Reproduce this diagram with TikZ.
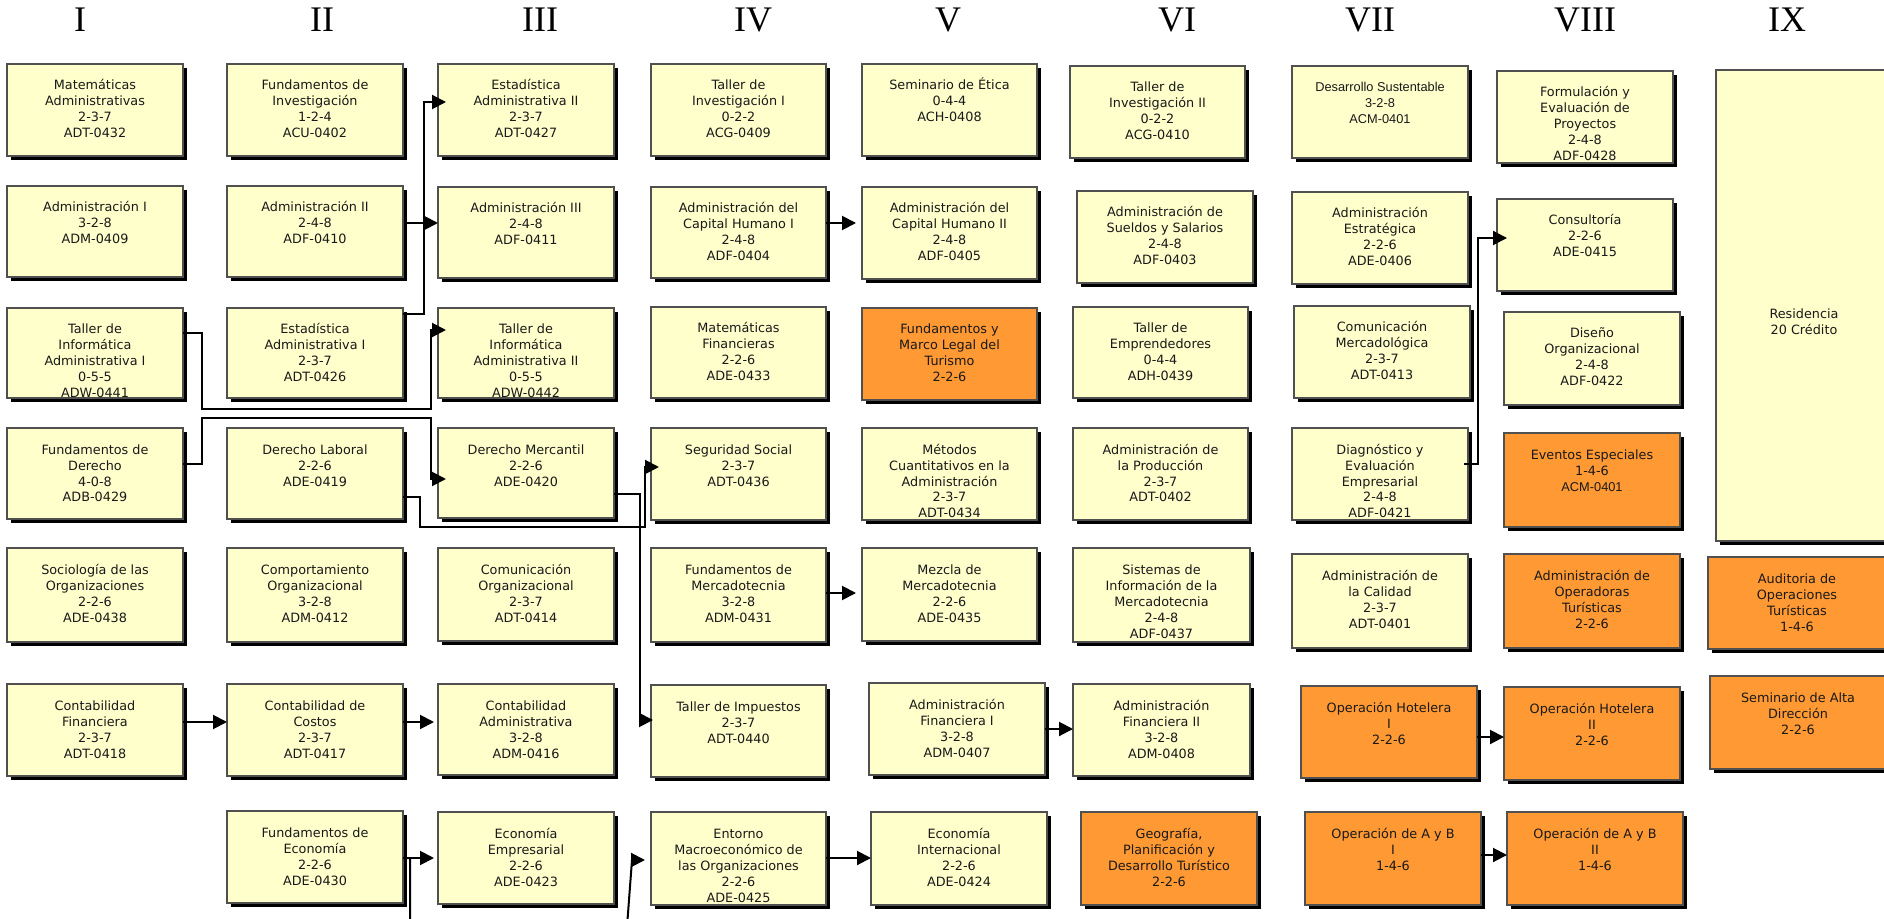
\documentclass[tikz,border=0pt]{standalone}
\usepackage{fontspec}
\usetikzlibrary{arrows.meta,shadows}
\newfontfamily\crsf{DejaVu Sans}
\newfontfamily\arialf{Liberation Sans}
\newfontfamily\romf{Liberation Serif}
\definecolor{ylw}{HTML}{FFFFCC}
\definecolor{orn}{HTML}{FF9933}
\definecolor{bordergray}{HTML}{505050}
\tikzset{
  crs/.style={rectangle, draw=bordergray, line width=0.8pt, fill=ylw, inner sep=0pt, outer sep=0pt,
    drop shadow={shadow xshift=1.8pt, shadow yshift=-1.8pt, fill=black, opacity=1}},
  org/.style={crs, fill=orn},
  lbl/.style={anchor=base, inner sep=0pt, outer sep=0pt, font=\crsf\fontsize{6.4}{8}\selectfont, text=black!90},
  roman/.style={anchor=base, inner sep=0pt, font=\romf\fontsize{18}{20}\selectfont},
  conn/.style={line width=1pt, -{Triangle[length=7pt,width=7pt]}},
}
\newcommand\crsbox[7]{%
  \node[#6, minimum width={(#4-#2)*0.5pt}, minimum height={(#5-#3)*0.5pt}] (#1) at ({(#2+#4)/2},{(#3+#5)/2}) {};
  \node[lbl] (#1t) at ({(#2+#4)/2},{#3+26}) {\begin{tabular}[t]{@{}c@{}}#7\end{tabular}};
}
\begin{document}
\begin{tikzpicture}[x=0.5pt,y=-0.5pt]
\useasboundingbox (0,0) rectangle (1884,919);
\clip (0,0) rectangle (1884,919);
% semester numerals
\node[roman] (r1) at (80,32) {I};
\node[roman] (r2) at (322,32) {II};
\node[roman] (r3) at (540,32) {III};
\node[roman] (r4) at (753,32) {IV};
\node[roman] (r5) at (948,32) {V};
\node[roman] (r6) at (1177,32) {VI};
\node[roman] (r7) at (1370,32) {VII};
\node[roman] (r8) at (1585,32) {VIII};
\node[roman] (r9) at (1787,32) {IX};
% column I
\crsbox{c11}{7}{64}{183}{156}{crs}{Matemáticas\\Administrativas\\2-3-7\\ADT-0432}
\crsbox{c12}{7}{186}{183}{277}{crs}{Administración I\\3-2-8\\ADM-0409}
\crsbox{c13}{7}{308}{183}{398}{crs}{Taller de\\Informática\\Administrativa I\\0-5-5\\ADW-0441}
\crsbox{c14}{7}{428}{183}{519}{crs}{Fundamentos de\\Derecho\\4-0-8\\ADB-0429}
\crsbox{c15}{7}{548}{183}{642}{crs}{Sociología de las\\Organizaciones\\2-2-6\\ADE-0438}
\crsbox{c16}{7}{684}{183}{776}{crs}{Contabilidad\\Financiera\\2-3-7\\ADT-0418}
% column II
\crsbox{c21}{227}{64}{403}{156}{crs}{Fundamentos de\\Investigación\\1-2-4\\ACU-0402}
\crsbox{c22}{227}{186}{403}{277}{crs}{Administración II\\2-4-8\\ADF-0410}
\crsbox{c23}{227}{308}{403}{398}{crs}{Estadística\\Administrativa I\\2-3-7\\ADT-0426}
\crsbox{c24}{227}{428}{403}{519}{crs}{Derecho Laboral\\2-2-6\\ADE-0419}
\crsbox{c25}{227}{548}{403}{642}{crs}{Comportamiento\\Organizacional\\3-2-8\\ADM-0412}
\crsbox{c26}{227}{684}{403}{776}{crs}{Contabilidad de\\Costos\\2-3-7\\ADT-0417}
\crsbox{c27}{227}{811}{403}{903}{crs}{Fundamentos de\\Economía\\2-2-6\\ADE-0430}
% column III
\crsbox{c31}{438}{64}{614}{156}{crs}{Estadística\\Administrativa II\\2-3-7\\ADT-0427}
\crsbox{c32}{438}{187}{614}{278}{crs}{Administración III\\2-4-8\\ADF-0411}
\crsbox{c33}{438}{308}{614}{398}{crs}{Taller de\\Informática\\Administrativa II\\0-5-5\\ADW-0442}
\crsbox{c34}{438}{428}{614}{518}{crs}{Derecho Mercantil\\2-2-6\\ADE-0420}
\crsbox{c35}{438}{548}{614}{641}{crs}{Comunicación\\Organizacional\\2-3-7\\ADT-0414}
\crsbox{c36}{438}{684}{614}{775}{crs}{Contabilidad\\Administrativa\\3-2-8\\ADM-0416}
\crsbox{c37}{438}{812}{614}{904}{crs}{Economía\\Empresarial\\2-2-6\\ADE-0423}
% column IV
\crsbox{c41}{651}{64}{826}{156}{crs}{Taller de\\Investigación I\\0-2-2\\ACG-0409}
\crsbox{c42}{651}{187}{826}{278}{crs}{Administración del\\Capital Humano I\\2-4-8\\ADF-0404}
\crsbox{c43}{651}{307}{826}{398}{crs}{Matemáticas\\Financieras\\2-2-6\\ADE-0433}
\crsbox{c44}{651}{428}{826}{520}{crs}{Seguridad Social\\2-3-7\\ADT-0436}
\crsbox{c45}{651}{548}{826}{642}{crs}{Fundamentos de\\Mercadotecnia\\3-2-8\\ADM-0431}
\crsbox{c46}{651}{685}{826}{777}{crs}{Taller de Impuestos\\2-3-7\\ADT-0440}
\crsbox{c47}{651}{812}{826}{905}{crs}{Entorno\\Macroeconómico de\\las Organizaciones\\2-2-6\\ADE-0425}
% column V
\crsbox{c51}{862}{64}{1037}{156}{crs}{Seminario de Ética\\0-4-4\\ACH-0408}
\crsbox{c52}{862}{187}{1037}{279}{crs}{Administración del\\Capital Humano II\\2-4-8\\ADF-0405}
\crsbox{c53}{862}{308}{1037}{400}{org}{Fundamentos y\\Marco Legal del\\Turismo\\2-2-6}
\crsbox{c54}{862}{428}{1037}{520}{crs}{Métodos\\Cuantitativos en la\\Administración\\2-3-7\\ADT-0434}
\crsbox{c55}{862}{548}{1037}{641}{crs}{Mezcla de\\Mercadotecnia\\2-2-6\\ADE-0435}
\crsbox{c56}{869}{683}{1045}{775}{crs}{Administración\\Financiera I\\3-2-8\\ADM-0407}
\crsbox{c57}{871}{812}{1047}{905}{crs}{Economía\\Internacional\\2-2-6\\ADE-0424}
% column VI
\crsbox{c61}{1070}{66}{1245}{158}{crs}{Taller de\\Investigación II\\0-2-2\\ACG-0410}
\crsbox{c62}{1077}{191}{1253}{283}{crs}{Administración de\\Sueldos y Salarios\\2-4-8\\ADF-0403}
\crsbox{c63}{1073}{307}{1248}{398}{crs}{Taller de\\Emprendedores\\0-4-4\\ADH-0439}
\crsbox{c64}{1073}{428}{1248}{520}{crs}{Administración de\\la Producción\\2-3-7\\ADT-0402}
\crsbox{c65}{1073}{548}{1250}{642}{crs}{Sistemas de\\Información de la\\Mercadotecnia\\2-4-8\\ADF-0437}
\crsbox{c66}{1073}{684}{1250}{776}{crs}{Administración\\Financiera II\\3-2-8\\ADM-0408}
\crsbox{c67}{1081}{812}{1257}{905}{org}{Geografía,\\Planificación y\\Desarrollo Turístico\\2-2-6}
% column VII
\crsbox{c71}{1292}{66}{1468}{158}{crs}{\arialf Desarrollo Sustentable\\\arialf 3-2-8\\\arialf ACM-0401}
\crsbox{c72}{1292}{192}{1468}{284}{crs}{Administración\\Estratégica\\2-2-6\\ADE-0406}
\crsbox{c73}{1294}{306}{1470}{398}{crs}{Comunicación\\Mercadológica\\2-3-7\\ADT-0413}
\crsbox{c74}{1292}{428}{1468}{520}{crs}{Diagnóstico y\\Evaluación\\Empresarial\\2-4-8\\ADF-0421}
\crsbox{c75}{1292}{554}{1468}{648}{crs}{Administración de\\la Calidad\\2-3-7\\ADT-0401}
\crsbox{c76}{1301}{686}{1477}{778}{org}{Operación Hotelera\\I\\2-2-6}
\crsbox{c77}{1305}{812}{1481}{905}{org}{Operación de A y B\\I\\1-4-6}
% column VIII
\crsbox{c81}{1497}{71}{1673}{163}{crs}{Formulación y\\Evaluación de\\Proyectos\\2-4-8\\ADF-0428}
\crsbox{c82}{1497}{199}{1673}{291}{crs}{Consultoría\\2-2-6\\ADE-0415}
\crsbox{c83}{1504}{312}{1680}{405}{crs}{Diseño\\Organizacional\\2-4-8\\ADF-0422}
\crsbox{c84}{1504}{433}{1680}{527}{org}{Eventos Especiales\\1-4-6\\\arialf ACM-0401}
\crsbox{c85}{1504}{554}{1680}{648}{org}{Administración de\\Operadoras\\Turísticas\\2-2-6}
\crsbox{c86}{1504}{687}{1680}{780}{org}{Operación Hotelera\\II\\2-2-6}
\crsbox{c87}{1507}{812}{1683}{905}{org}{Operación de A y B\\II\\1-4-6}
% column IX
\node[crs, minimum width={(1892-1716)*0.5pt}, minimum height={(541-70)*0.5pt}] (c91) at ({(1716+1892)/2},{(70+541)/2}) {};
\node[lbl] (c91t) at (1804,319) {\begin{tabular}[t]{@{}c@{}}Residencia\\20 Crédito\end{tabular}};
\crsbox{c92}{1708}{557}{1886}{649}{org}{Auditoria de\\Operaciones\\Turísticas\\1-4-6}
\crsbox{c93}{1710}{676}{1886}{769}{org}{Seminario de Alta\\Dirección\\2-2-6}
% connectors
\draw[conn] (c13.east |- 0,333) -- (202,333) -- (202,409) -- (431,409) -- (431,330) -- ([xshift=4pt]c33.west |- 0,330);
\draw[conn] (c23.east |- 0,314) -- (424,314) -- (424,102) -- ([xshift=4pt]c31.west |- 0,102);
\draw[conn] ([xshift=2pt]c22.east |- 0,223) -- (c32.west |- 0,223);
\draw[conn] (c14.east |- 0,464) -- (202,464) -- (202,418) -- (431,418) -- (431,479) -- ([xshift=4pt]c34.west |- 0,479);
\draw[conn] (c24.east |- 0,497) -- (420,497) -- (420,527) -- (645,527) -- (645,467) -- ([xshift=4pt]c44.west |- 0,467);
\draw[conn] (c34.east |- 0,494) -- (640,494) -- (640,720) -- ([xshift=1pt]c46.west |- 0,720);
\draw[conn] (c16.east |- 0,722) -- (c26.west |- 0,722);
\draw[conn] (c26.east |- 0,722) -- ([xshift=-2pt]c36.west |- 0,722);
\draw[conn] (c27.east |- 0,858) -- ([xshift=-2pt]c37.west |- 0,858);
\draw[conn] (c27.east |- 0,858) -- (410,858) -- (410,940) -- (626,940) -- (632,860) -- ([xshift=-3pt]c47.west |- 0,860);
\draw[conn] (c42.east |- 0,223) -- ([xshift=-3pt]c52.west |- 0,223);
\draw[conn] (c45.east |- 0,593) -- ([xshift=-3pt]c55.west |- 0,593);
\draw[conn] (c47.east |- 0,858) -- (c57.west |- 0,858);
\draw[conn] (c56.east |- 0,729) -- (c66.west |- 0,729);
\draw[conn] ([xshift=-2pt]c74.east |- 0,464) -- (1478,464) -- (1478,238) -- ([xshift=5pt]c82.west |- 0,238);
\draw[conn] (c76.east |- 0,737) -- (c86.west |- 0,737);
\draw[conn] (c77.east |- 0,855) -- (c87.west |- 0,855);
\end{tikzpicture}
\end{document}
